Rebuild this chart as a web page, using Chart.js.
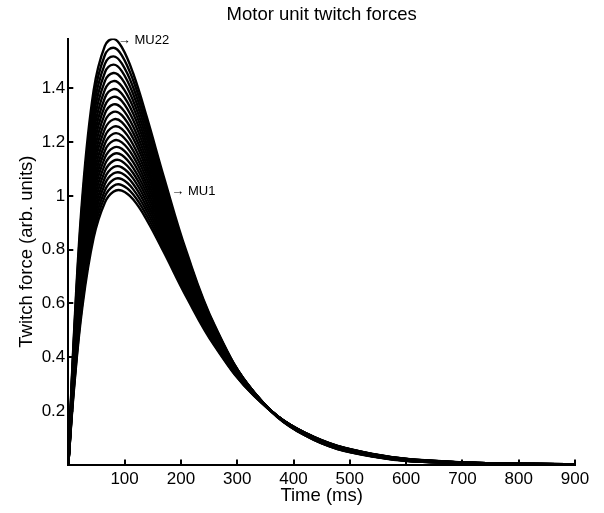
<!DOCTYPE html>
<html>
<head>
<meta charset="utf-8">
<title>Motor unit twitch forces</title>
<script src="https://cdn.jsdelivr.net/npm/chart.js@4/dist/chart.umd.min.js"></script>
<style>
    html, body { margin: 0; padding: 0; background: #fff; }
    #wrap { width: 604px; height: 513px; }
</style>
</head>
<body>
<div id="wrap"><canvas id="twitchChart" width="604" height="513"></canvas></div>
<script>
// Sample times (ms) shared by every twitch curve
const times = [0, 10, 25, 45, 65, 80, 95, 115, 140, 170, 210, 260, 330, 420, 540, 700, 900];

// Twitch force of each motor unit at the sample times (arb. units)
const mu1  = [0, 0.278, 0.587, 0.844, 0.975, 1.015, 1.019, 0.987, 0.908, 0.789, 0.623, 0.441, 0.256, 0.119, 0.040, 0.009, 0.001];
const mu2  = [0, 0.285, 0.602, 0.865, 0.998, 1.037, 1.040, 1.006, 0.924, 0.801, 0.631, 0.445, 0.257, 0.119, 0.040, 0.008, 0.001];
const mu3  = [0, 0.293, 0.617, 0.886, 1.020, 1.060, 1.062, 1.025, 0.940, 0.813, 0.638, 0.449, 0.258, 0.118, 0.039, 0.008, 0.001];
const mu4  = [0, 0.300, 0.633, 0.907, 1.044, 1.083, 1.084, 1.045, 0.956, 0.825, 0.646, 0.453, 0.259, 0.118, 0.039, 0.008, 0.001];
const mu5  = [0, 0.309, 0.649, 0.929, 1.067, 1.106, 1.106, 1.065, 0.973, 0.838, 0.654, 0.457, 0.260, 0.118, 0.038, 0.008, 0.001];
const mu6  = [0, 0.317, 0.666, 0.952, 1.092, 1.130, 1.129, 1.085, 0.990, 0.850, 0.662, 0.460, 0.261, 0.117, 0.038, 0.008, 0.001];
const mu7  = [0, 0.325, 0.683, 0.975, 1.117, 1.155, 1.152, 1.105, 1.007, 0.863, 0.670, 0.464, 0.261, 0.117, 0.037, 0.008, 0.001];
const mu8  = [0, 0.334, 0.701, 0.999, 1.142, 1.179, 1.175, 1.126, 1.024, 0.876, 0.678, 0.468, 0.262, 0.117, 0.037, 0.007, 0.001];
const mu9  = [0, 0.343, 0.719, 1.023, 1.168, 1.205, 1.199, 1.148, 1.041, 0.889, 0.686, 0.472, 0.263, 0.116, 0.036, 0.007, 0.001];
const mu10 = [0, 0.352, 0.737, 1.047, 1.194, 1.231, 1.224, 1.169, 1.059, 0.902, 0.694, 0.476, 0.264, 0.116, 0.036, 0.007, 0.001];
const mu11 = [0, 0.362, 0.756, 1.073, 1.221, 1.257, 1.249, 1.191, 1.077, 0.915, 0.702, 0.479, 0.264, 0.115, 0.036, 0.007, 0.001];
const mu12 = [0, 0.371, 0.776, 1.099, 1.249, 1.284, 1.274, 1.214, 1.095, 0.928, 0.710, 0.483, 0.265, 0.115, 0.035, 0.007, 0.001];
const mu13 = [0, 0.381, 0.795, 1.125, 1.277, 1.312, 1.300, 1.236, 1.113, 0.942, 0.718, 0.487, 0.266, 0.114, 0.035, 0.007, 0.001];
const mu14 = [0, 0.391, 0.816, 1.152, 1.306, 1.340, 1.326, 1.259, 1.132, 0.955, 0.726, 0.490, 0.266, 0.114, 0.034, 0.006, 0.001];
const mu15 = [0, 0.402, 0.837, 1.180, 1.335, 1.368, 1.353, 1.283, 1.151, 0.969, 0.735, 0.494, 0.267, 0.113, 0.034, 0.006, 0.001];
const mu16 = [0, 0.413, 0.858, 1.208, 1.365, 1.397, 1.380, 1.307, 1.170, 0.983, 0.743, 0.498, 0.267, 0.113, 0.033, 0.006, 0.001];
const mu17 = [0, 0.424, 0.880, 1.237, 1.395, 1.427, 1.408, 1.331, 1.189, 0.997, 0.751, 0.501, 0.268, 0.112, 0.033, 0.006, 0.001];
const mu18 = [0, 0.435, 0.902, 1.267, 1.427, 1.457, 1.436, 1.355, 1.209, 1.011, 0.759, 0.505, 0.268, 0.111, 0.032, 0.006, 0.001];
const mu19 = [0, 0.447, 0.926, 1.297, 1.459, 1.488, 1.464, 1.380, 1.229, 1.025, 0.767, 0.508, 0.268, 0.111, 0.032, 0.006, 0.001];
const mu20 = [0, 0.459, 0.949, 1.328, 1.491, 1.519, 1.493, 1.405, 1.249, 1.039, 0.775, 0.511, 0.269, 0.110, 0.031, 0.005, 0.001];
const mu21 = [0, 0.471, 0.973, 1.360, 1.524, 1.551, 1.523, 1.431, 1.269, 1.053, 0.784, 0.515, 0.269, 0.109, 0.031, 0.005, 0.001];
const mu22 = [0, 0.483, 0.998, 1.392, 1.558, 1.584, 1.553, 1.457, 1.289, 1.068, 0.792, 0.518, 0.269, 0.109, 0.030, 0.005, 0.001];

const units = [mu1, mu2, mu3, mu4, mu5, mu6, mu7, mu8, mu9, mu10, mu11,
               mu12, mu13, mu14, mu15, mu16, mu17, mu18, mu19, mu20, mu21, mu22];

// Axis ticks
const xTicks = [100, 200, 300, 400, 500, 600, 700, 800, 900];
const yTicks = [0.2, 0.4, 0.6, 0.8, 1, 1.2, 1.4];

// Arrow annotations pointing at the first and last unit
const noteTexts = ["\u2192 MU1", "\u2192 MU22"];
const noteTimes = [183, 88];
const noteForces = [1.015, 1.579];

const FONT = '"Liberation Sans", Arial, Helvetica, sans-serif';
Chart.defaults.font.family = FONT;
Chart.defaults.color = "#000";

// MATLAB style tick marks pointing into the plot
const inwardTicks = {
    id: "inwardTicks",
    afterDatasetsDraw(chart) {
        const { ctx, chartArea, scales } = chart;
        ctx.save();
        ctx.strokeStyle = "#000";
        ctx.lineWidth = 2;
        ctx.beginPath();
        xTicks.forEach(v => {
            const px = Math.round(scales.x.getPixelForValue(v));
            ctx.moveTo(px, chartArea.bottom);
            ctx.lineTo(px, chartArea.bottom - 5);
        });
        yTicks.forEach(v => {
            const py = Math.round(scales.y.getPixelForValue(v));
            ctx.moveTo(chartArea.left, py);
            ctx.lineTo(chartArea.left + 5, py);
        });
        ctx.stroke();
        ctx.restore();
    }
};

const notes = {
    id: "notes",
    afterDatasetsDraw(chart) {
        const { ctx, scales } = chart;
        ctx.save();
        ctx.fillStyle = "#000";
        ctx.font = "13px " + FONT;
        ctx.textAlign = "left";
        ctx.textBaseline = "middle";
        noteTexts.forEach((txt, i) => {
            ctx.fillText(txt, scales.x.getPixelForValue(noteTimes[i]), scales.y.getPixelForValue(noteForces[i]));
        });
        ctx.restore();
    }
};

const datasets = units.map((forces, i) => ({
    label: "MU" + (i + 1),
    data: forces.map((f, k) => ({ x: times[k], y: f })),
    borderColor: "#000",
    borderWidth: 2.4,
    pointRadius: 0,
    tension: 0.4,
    fill: false
}));

new Chart(document.getElementById("twitchChart"), {
    type: "line",
    data: { datasets: datasets },
    plugins: [inwardTicks, notes],
    options: {
        responsive: false,
        animation: false,
        layout: { padding: { left: 0, right: 29, top: 0, bottom: 0 } },
        plugins: {
            legend: { display: false },
            tooltip: { enabled: false },
            title: {
                display: true,
                fullSize: false,
                text: "Motor unit twitch forces",
                color: "#000",
                font: { size: 18.5, weight: "normal" },
                padding: { top: 4, bottom: 12.4 }
            }
        },
        scales: {
            x: {
                type: "linear",
                min: 0,
                max: 900,
                afterFit: s => { s.height = 48.4; },
                afterBuildTicks: s => { s.ticks = xTicks.map(v => ({ value: v })); },
                ticks: { font: { size: 17 }, padding: 5, maxRotation: 0 },
                grid: { display: false, drawTicks: false },
                border: { display: true, color: "#000", width: 2 },
                title: {
                    display: true,
                    text: "Time (ms)",
                    font: { size: 18.5 },
                    padding: { top: 0, bottom: 6 }
                }
            },
            y: {
                min: 0,
                max: 1.585,
                afterFit: s => { s.width = 68.3; },
                afterBuildTicks: s => { s.ticks = yTicks.map(v => ({ value: v })); },
                ticks: { font: { size: 17 }, padding: 3, callback: v => String(+v.toFixed(1)) },
                grid: { display: false, drawTicks: false },
                border: { display: true, color: "#000", width: 2 },
                title: {
                    display: true,
                    text: "Twitch force (arb. units)",
                    font: { size: 18.5 },
                    padding: { top: 16, bottom: 0 }
                }
            }
        }
    }
});
</script>
</body>
</html>
